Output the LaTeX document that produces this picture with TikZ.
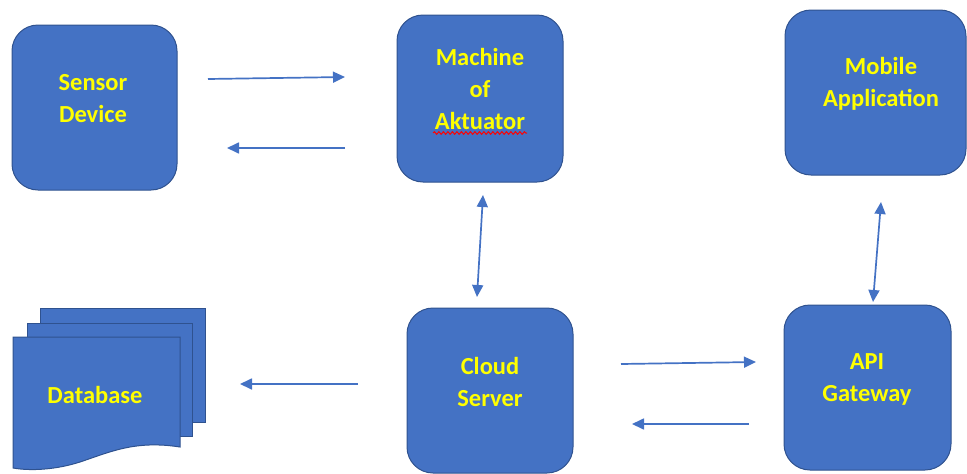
\documentclass[tikz,border=0pt]{standalone}
\usepackage{fontspec}
\setmainfont{Carlito}
\usetikzlibrary{arrows.meta,decorations.pathmorphing,calc}
\definecolor{boxfill}{HTML}{4472C4}
\definecolor{boxline}{HTML}{2F528F}
\definecolor{txt}{HTML}{FFFF00}
\definecolor{arr}{HTML}{4472C4}
\tikzset{
  box/.style={draw=boxline, line width=1pt, fill=boxfill, rounded corners=26pt, inner sep=0pt},
  lbl/.style={text=txt, font=\bfseries\fontsize{24.5}{32}\selectfont, align=center, inner sep=0pt},
  page/.style={draw=boxline, line width=1pt, fill=boxfill},
  conn/.style={draw=arr, line width=1.7pt, -{Triangle[length=12pt,width=11pt]}},
  bconn/.style={draw=arr, line width=1.7pt, {Triangle[length=12pt,width=11pt]}-{Triangle[length=12pt,width=11pt]}},
}
\begin{document}
\begin{tikzpicture}[x=1pt,y=-1pt]
\useasboundingbox (0,0) rectangle (967,474);
% boxes
\node[box, minimum width=165pt, minimum height=165pt] (sensor) at (94.5,107.5) {};
\node[box, minimum width=166pt, minimum height=167pt] (machine) at (480,98.5) {};
\node[box, minimum width=181pt, minimum height=165pt] (mobile) at (875.5,92.5) {};
\node[box, minimum width=166pt, minimum height=165pt] (cloud) at (490,390.5) {};
\node[box, minimum width=167pt, minimum height=165pt] (api) at (867.5,387.5) {};
% database (multi-document)
\path[page] (40,308) rectangle (205,422);
\path[page] (27,323) rectangle (192,436);
\path[page] (13,337) -- (180,337) -- (180,447)
  .. controls (135,440) and (110,452) .. (80,462)
  .. controls (55,470) and (30,471) .. (13,468) -- cycle;
\coordinate (dbc) at (95,395);
% labels
\node[lbl] (sensorT) at (93,99) {Sensor\\Device};
\node[lbl] (machineT) at (480,89) {Machine\\of\\Aktuator};
\node[lbl] (mobileT) at (881,83.5) {Mobile\\Application};
\node[lbl] (cloudT) at (490,381.5) {Cloud\\Server};
\node[lbl] (apiT) at (867,379) {API\\Gateway};
\node[lbl] (dbT) at (dbc) {Database};
% spell-check squiggle
\coordinate (sqA) at (433,133);
\coordinate (sqB) at (527,133);
\draw[red, line width=1pt, decorate, decoration={snake, amplitude=1.3pt, segment length=4.5pt}] (sqA) -- (sqB);
% connector end points
\coordinate (a1s) at (208,79);  \coordinate (a1e) at (345,77);
\coordinate (a2s) at (345,148); \coordinate (a2e) at (227,148);
\coordinate (a3s) at (483,195); \coordinate (a3e) at (477,297);
\coordinate (a4s) at (881,202); \coordinate (a4e) at (873,302);
\coordinate (a5s) at (358,384); \coordinate (a5e) at (240,384);
\coordinate (a6s) at (621,364); \coordinate (a6e) at (756,362);
\coordinate (a7s) at (749,424); \coordinate (a7e) at (632,424);
\draw[conn] (a1s) -- (a1e);
\draw[conn] (a2s) -- (a2e);
\draw[bconn] (a3s) -- (a3e);
\draw[bconn] (a4s) -- (a4e);
\draw[conn] (a5s) -- (a5e);
\draw[conn] (a6s) -- (a6e);
\draw[conn] (a7s) -- (a7e);
\end{tikzpicture}
\end{document}
